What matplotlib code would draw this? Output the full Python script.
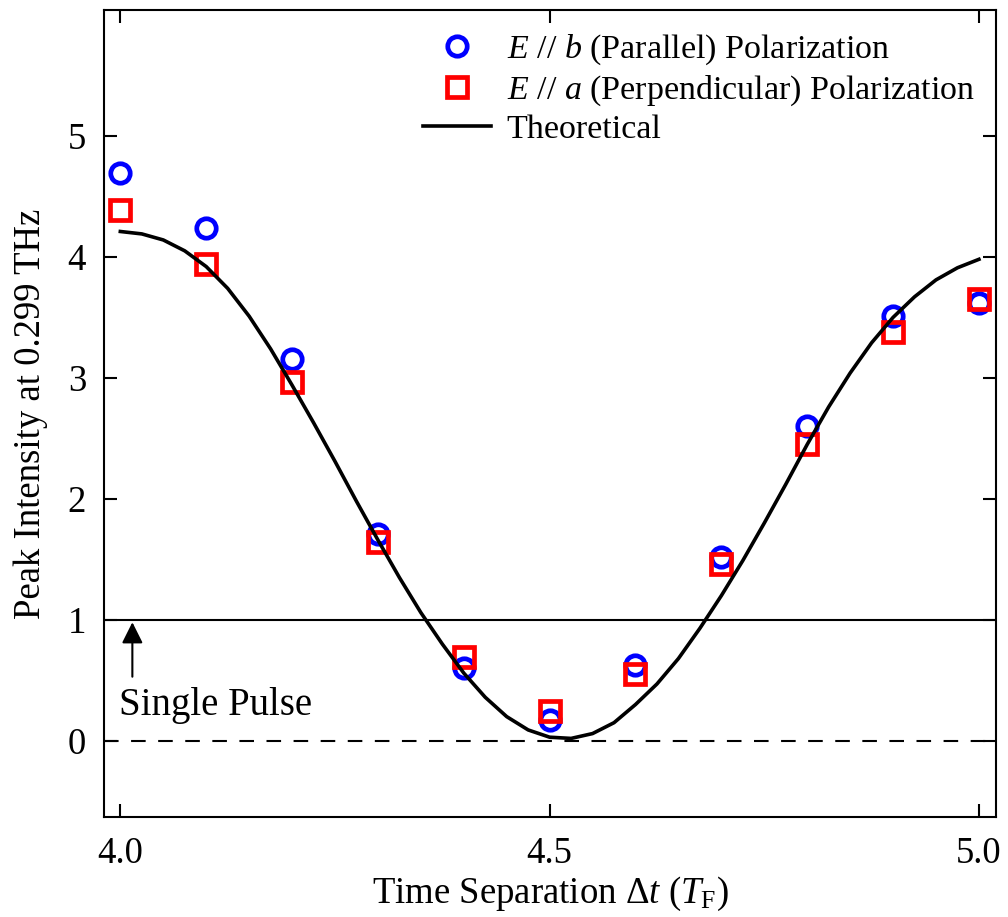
import numpy as np
import matplotlib
matplotlib.use('Agg')
import matplotlib.pyplot as plt

# Fuente tipo Times para todo el texto
plt.rcParams['font.family'] = ['Liberation Serif', 'DejaVu Serif']
plt.rcParams['mathtext.fontset'] = 'custom'
plt.rcParams['mathtext.rm'] = 'Liberation Serif'
plt.rcParams['mathtext.it'] = 'Liberation Serif:italic'
plt.rcParams['mathtext.bf'] = 'Liberation Serif:bold'

# Datos medidos
dt = [4.0, 4.1, 4.2, 4.3, 4.4, 4.5, 4.6, 4.7, 4.8, 4.9, 5.0]
pico_paralelo = [4.69, 4.24, 3.16, 1.71, 0.60, 0.17, 0.63, 1.52, 2.60, 3.51, 3.62]
pico_perpendicular = [4.39, 3.94, 2.97, 1.64, 0.69, 0.25, 0.55, 1.46, 2.45, 3.38, 3.65]

# Curva teórica
dt_teo = [4.000, 4.025, 4.050, 4.075, 4.100, 4.125, 4.150, 4.175, 4.200, 4.225,
          4.250, 4.275, 4.300, 4.325, 4.350, 4.375, 4.400, 4.425, 4.450, 4.475,
          4.500, 4.525, 4.550, 4.575, 4.600, 4.625, 4.650, 4.675, 4.700, 4.725,
          4.750, 4.775, 4.800, 4.825, 4.850, 4.875, 4.900, 4.925, 4.950, 4.975,
          5.000]
pico_teo = [4.21, 4.19, 4.14, 4.05, 3.92, 3.74, 3.51, 3.24, 2.94, 2.63,
            2.31, 1.98, 1.66, 1.35, 1.06, 0.80, 0.56, 0.36, 0.20, 0.09,
            0.03, 0.02, 0.06, 0.15, 0.30, 0.47, 0.68, 0.93, 1.20, 1.49,
            1.80, 2.12, 2.45, 2.76, 3.04, 3.29, 3.50, 3.67, 3.81, 3.91,
            3.98]

pulso_simple = 1.0

fig = plt.figure(figsize=(10.08, 9.17), dpi=100)
ax = fig.add_axes([0.1032, 0.109, 0.8850, 0.880])

# Líneas de referencia
ax.axhline(pulso_simple, color='black', lw=1.5)
ax.axhline(0, color='black', lw=1.5, linestyle=(0, (7, 6)))

ax.plot(dt, pico_paralelo, 'o', ms=14, mfc='none', mec='#0000ff', mew=3.4,
        label=r'$E$ // $b$ (Parallel) Polarization')
ax.plot(dt, pico_perpendicular, 's', ms=14, mfc='none', mec='#ff0000', mew=3.4,
        label=r'$E$ // $a$ (Perpendicular) Polarization')
ax.plot(dt_teo, pico_teo, color='black', lw=2.6, label='Theoretical')

# Flecha del pulso simple
ax.annotate('', xy=(4.014, 0.98), xytext=(4.014, 0.53),
            arrowprops=dict(arrowstyle='-|>', color='black', lw=1.5,
                            mutation_scale=32, shrinkA=0, shrinkB=0))
ax.text(3.999, 0.215, 'Single Pulse', fontsize=28, ha='left', va='baseline')

ax.set_xlim(3.981, 5.020)
ax.set_ylim(-0.63, 6.04)
ax.set_xticks([4.0, 4.5, 5.0])
ax.set_xticklabels(['4.0', '4.5', '5.0'])
ax.set_yticks([0, 1, 2, 3, 4, 5])

ax.tick_params(direction='in', length=9.5, width=1.5, labelsize=26.5,
               top=True, right=True)
ax.tick_params(axis='x', pad=14)
ax.tick_params(axis='y', pad=13)
for s in ax.spines.values():
    s.set_linewidth(1.5)

ax.set_xlabel(r'Time Separation $\Delta t$ ($T_\mathrm{F}$)', fontsize=26.5, labelpad=3)
ax.set_ylabel('Peak Intensity at 0.299 THz', fontsize=26.5, labelpad=14)

ax.legend(loc='upper left', bbox_to_anchor=(0.335, 0.997), frameon=False,
          fontsize=24.5, handlelength=2.0, handletextpad=0.45,
          labelspacing=0.18, borderaxespad=0.2, numpoints=1)

fig.savefig('out.png', dpi=100)
